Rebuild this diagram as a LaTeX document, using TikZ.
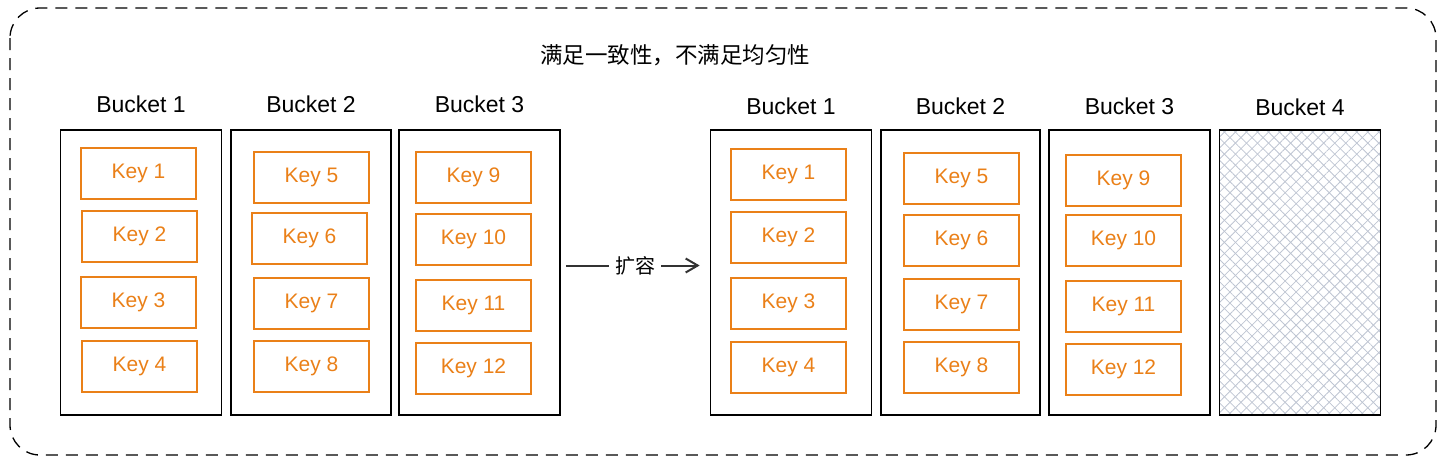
\documentclass[tikz,border=0pt]{standalone}
\usepackage{fontspec}
\setmainfont{Liberation Sans}
\newfontfamily\cjkfont{Noto Sans CJK SC}
\usetikzlibrary{positioning,arrows.meta,patterns.meta}
\definecolor{keyorange}{RGB}{234,128,24}
\definecolor{hatchgray}{RGB}{190,197,210}
\definecolor{arrowgray}{RGB}{50,50,50}

\begin{document}
\begin{tikzpicture}[
    x=1pt, y=-1pt,
    font=\fontsize{23}{26}\selectfont,
    bucket/.style={draw, line width=1.7pt, minimum width=161pt, minimum height=285pt},
    keybox/.style={draw=keyorange, text=keyorange, line width=1.7pt, minimum width=115pt, minimum height=51pt, font=\fontsize{21}{24}\selectfont},
    lbl/.style={inner sep=0pt},
    arr/.style={-{Straight Barb[length=12pt,width=14pt]}, line width=2pt, draw=arrowgray},
]
\useasboundingbox (0,0) rectangle (1446,463);

% Outer frame and title
\draw[dash pattern=on 12pt off 8pt, line width=1.3pt, rounded corners=30pt] (10,8) rectangle (1436,455);
\node (title) at (675,55) {\cjkfont\fontsize{22.5}{26}\selectfont 满足一致性，不满足均匀性};

% Buckets before
\node[bucket] (lb1) at (141,272.5) {};
\node[bucket, minimum width=160pt] (lb2) at (311,272.5) {};
\node[bucket] (lb3) at (479.5,272.5) {};
\node[lbl, above=16pt of lb1] (lbl1) {Bucket 1};
\node[lbl, above=16pt of lb2] (lbl2) {Bucket 2};
\node[lbl, above=16pt of lb3] (lbl3) {Bucket 3};

% Keys before
\node[keybox] (lk1)  at (138.5,173.5) {Key 1};
\node[keybox] (lk2)  at (139.5,236.5) {Key 2};
\node[keybox] (lk3)  at (138.5,302.5) {Key 3};
\node[keybox] (lk4)  at (139.5,366.5) {Key 4};
\node[keybox] (lk5)  at (311.5,177.5) {Key 5};
\node[keybox] (lk6)  at (309.5,238.5) {Key 6};
\node[keybox] (lk7)  at (311.5,303.5) {Key 7};
\node[keybox] (lk8)  at (311.5,366.5) {Key 8};
\node[keybox] (lk9)  at (473.5,177.5) {Key 9};
\node[keybox] (lk10) at (473.5,239.5) {Key 10};
\node[keybox] (lk11) at (473.5,305.5) {Key 11};
\node[keybox] (lk12) at (473.5,368.5) {Key 12};

% Buckets after
\node[bucket] (rb1) at (791,272.5) {};
\node[bucket, minimum width=159pt] (rb2) at (960.5,272.5) {};
\node[bucket] (rb3) at (1129.5,272.5) {};
\node[bucket, preaction={pattern={Lines[angle=-45,distance=7.8pt,line width=0.8pt]}, pattern color=hatchgray},
      pattern={Lines[angle=45,distance=7.8pt,line width=0.8pt]}, pattern color=hatchgray] (rb4) at (1300,272.5) {};
\node[lbl, above=14pt of rb1] (rlbl1) {Bucket 1};
\node[lbl, above=14pt of rb2] (rlbl2) {Bucket 2};
\node[lbl, above=14pt of rb3] (rlbl3) {Bucket 3};
\node[lbl, above=14pt of rb4] (rlbl4) {Bucket 4};

% Keys after
\node[keybox] (rk1)  at (788.5,174.5) {Key 1};
\node[keybox] (rk2)  at (788.5,237.5) {Key 2};
\node[keybox] (rk3)  at (788.5,303.5) {Key 3};
\node[keybox] (rk4)  at (788.5,367.5) {Key 4};
\node[keybox] (rk5)  at (961.5,178.5) {Key 5};
\node[keybox] (rk6)  at (961.5,240.5) {Key 6};
\node[keybox] (rk7)  at (961.5,304.5) {Key 7};
\node[keybox] (rk8)  at (961.5,367.5) {Key 8};
\node[keybox] (rk9)  at (1123.5,180.5) {Key 9};
\node[keybox] (rk10) at (1123.5,240.5) {Key 10};
\node[keybox] (rk11) at (1123.5,306.5) {Key 11};
\node[keybox] (rk12) at (1123.5,369.5) {Key 12};

% Scale-out arrow
\draw[arr, shorten <=5pt, shorten >=10pt] ([yshift=7pt]lb3.east) -- node[fill=white, inner xsep=6pt, text=black]{\cjkfont\fontsize{20}{23}\selectfont 扩容} ([yshift=7pt]rb1.west);

\end{tikzpicture}
\end{document}
